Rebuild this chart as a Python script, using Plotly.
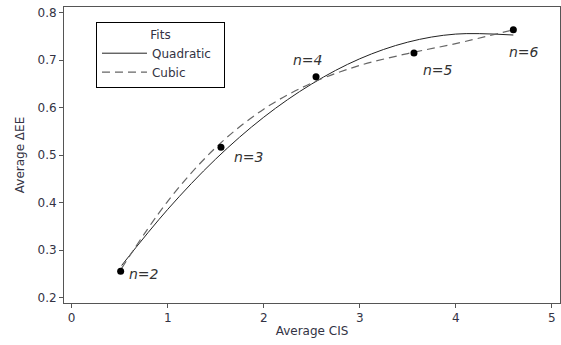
import plotly.graph_objects as go

# Observed data points
cis = [0.51, 1.555, 2.545, 3.565, 4.60]
dee = [0.256, 0.517, 0.665, 0.715, 0.764]
labels = ["n=2", "n=3", "n=4", "n=5", "n=6"]

# Fit curves
fit_x = [0.52, 1.0, 1.5, 2.0, 2.5, 3.0, 3.5, 4.0, 4.6]
quad_y = [0.268, 0.386, 0.492, 0.580, 0.650, 0.703, 0.738, 0.755, 0.753]
cubic_y = [0.262, 0.403, 0.516, 0.597, 0.652, 0.689, 0.714, 0.735, 0.764]

# label offsets (pixels) relative to each point
lab_dx = [23, 28, -8, 24, 11]
lab_dy = [-3, -10, 17, -17, -22]

font = "DejaVu Sans"
tcol = "#333344"
fig = go.Figure()
fig.add_trace(go.Scatter(x=fit_x, y=quad_y, mode="lines", name="Quadratic\u00a0\u00a0",
                         line=dict(color="#222222", width=1, shape="spline")))
fig.add_trace(go.Scatter(x=fit_x, y=cubic_y, mode="lines", name="Cubic",
                         line=dict(color="#666666", width=1.2, shape="spline", dash="8px,5px")))
fig.add_trace(go.Scatter(x=cis, y=dee, mode="markers", showlegend=False,
                         marker=dict(color="black", size=7)))

for x, y, t, dx, dy in zip(cis, dee, labels, lab_dx, lab_dy):
    fig.add_annotation(x=x, y=y, text="<i>" + t + "</i>", showarrow=False,
                       xshift=dx, yshift=dy,
                       font=dict(family=font, size=14, color="#333333"))

axis_common = dict(showline=True, linecolor="#555555", linewidth=1, mirror=True,
                   ticks="outside", ticklen=4, tickcolor="#555555",
                   showgrid=False, zeroline=False, automargin=False,
                   ticklabeloverflow="allow",
                   tickfont=dict(family=font, size=12, color=tcol))
fig.update_xaxes(range=[-0.08, 5.086], tickvals=[0, 1, 2, 3, 4, 5],
                 title=dict(text="Average CIS", font=dict(family=font, size=12, color=tcol), standoff=2),
                 **axis_common)
fig.update_yaxes(range=[0.189, 0.812], tickvals=[0.2, 0.3, 0.4, 0.5, 0.6, 0.7, 0.8],
                 tickformat=".1f",
                 title=dict(text="Average ΔEE", font=dict(family=font, size=12, color=tcol), standoff=10),
                 **axis_common)

fig.update_layout(
    width=561, height=345,
    margin=dict(l=64, r=1, t=7, b=42, autoexpand=False),
    plot_bgcolor="white", paper_bgcolor="white",
    legend=dict(x=0.0645, y=0.949, xanchor="left", yanchor="top",
                bordercolor="black", borderwidth=1, bgcolor="white",
                title=dict(text="Fits", side="top center", font=dict(family=font, size=12, color=tcol)),
                font=dict(family=font, size=12, color=tcol),
                itemwidth=45, tracegroupgap=0),
)

fig.write_html("out.html", config={"displayModeBar": False},
               post_script="document.body.style.margin='0';document.body.style.overflow='hidden';")
